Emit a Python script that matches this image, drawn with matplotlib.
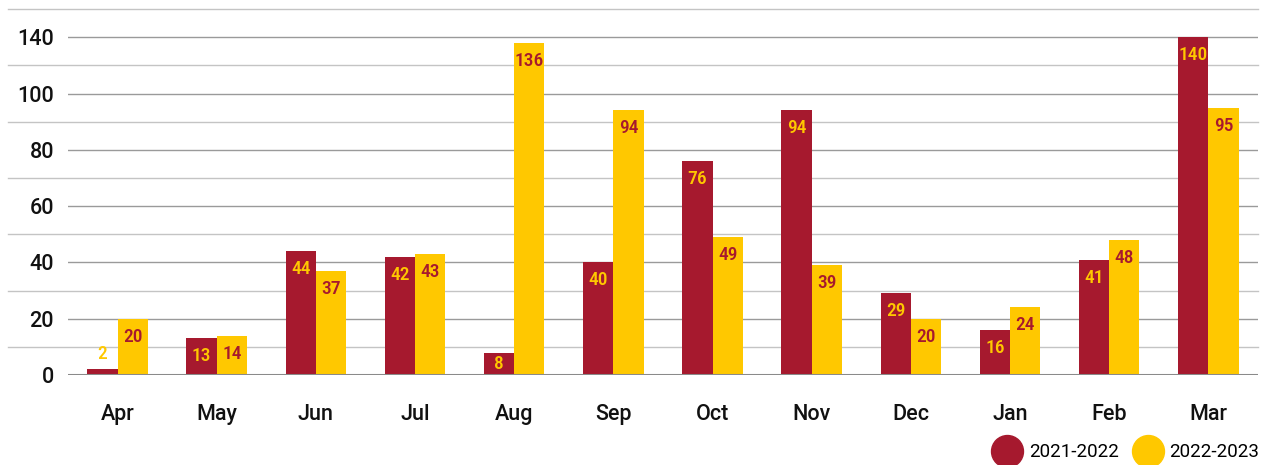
import matplotlib.pyplot as plt
import numpy as np
from matplotlib.lines import Line2D

months = ["Apr", "May", "Jun", "Jul", "Aug", "Sep", "Oct", "Nov", "Dec", "Jan", "Feb", "Mar"]
fy_2021_22 = [2, 13, 44, 42, 8, 40, 76, 94, 29, 16, 41, 140]
fy_2022_23 = [20, 14, 37, 43, 136, 94, 49, 39, 20, 24, 48, 95]
series_names = ["2021-2022", "2022-2023"]
y_ticks = [0, 20, 40, 60, 80, 100, 140]

RED = "#A6192E"
YELLOW = "#FFC800"
LABEL_FONT = ["Roboto Condensed", "Roboto", "DejaVu Sans"]

plt.rcParams["font.family"] = ["Roboto", "Liberation Sans", "DejaVu Sans"]


# axis is squeezed above 100 so the big months still fit
def fwd(y):
    y = np.asarray(y, dtype=float)
    return np.where(y <= 100, y, 100 + (y - 100) / 2)


def inv(t):
    t = np.asarray(t, dtype=float)
    return np.where(t <= 100, t, 100 + (t - 100) * 2)


fig = plt.figure(figsize=(12.7, 4.65), dpi=100)
ax = fig.add_axes([0.0535, 0.1935, 0.937, 0.787])
ax.set_yscale("function", functions=(fwd, inv))

x = np.arange(len(months))
w = 0.305
bars1 = ax.bar(x - w / 2, fy_2021_22, w, color=RED, zorder=3)
bars2 = ax.bar(x + w / 2, fy_2022_23, w, color=YELLOW, zorder=3)

ax.set_xlim(-0.5, len(months) - 0.5)
ax.set_ylim(0, float(inv(130)))

# light lines between the labelled ticks run out past the tick labels
for t in [10, 30, 50, 70, 90, 110, 130]:
    ax.axhline(float(inv(t)), xmin=-0.05, xmax=1, color="#c4c4c4", lw=1.0,
               clip_on=False, zorder=1)
for v in y_ticks[1:]:
    ax.axhline(v, color="#9a9a9a", lw=1.0, zorder=1)
ax.axhline(0, color="#8a8a8a", lw=2.2, zorder=4)

ax.set_yticks(y_ticks)
ax.set_yticklabels([str(v) for v in y_ticks])
ax.set_xticks(x)
ax.set_xticklabels(months)
ax.tick_params(axis="both", length=0, labelsize=15.5, labelcolor="#111111")
ax.tick_params(axis="y", pad=10)
ax.tick_params(axis="x", pad=21)
for lab in ax.get_xticklabels() + ax.get_yticklabels():
    lab.set_fontweight("medium")
for s in ax.spines.values():
    s.set_visible(False)


def label_bars(bars, vals, text_color):
    for b, v in zip(bars, vals):
        cx = b.get_x() + b.get_width() / 2
        px = ax.transData.transform([(cx, v), (cx, 0)])
        h = px[0][1] - px[1][1]
        if h < 14:
            dy = 15
        else:
            dy = -min(18, h / 2)
        ax.annotate(str(v), (cx, v), xytext=(0, dy), textcoords="offset pixels",
                    ha="center", va="center", color=text_color, fontsize=14,
                    fontweight="medium", family=LABEL_FONT, zorder=5)


label_bars(bars1, fy_2021_22, YELLOW)
label_bars(bars2, fy_2022_23, RED)

handles = [Line2D([], [], marker="o", ls="none", markersize=23, color=c)
           for c in (RED, YELLOW)]
fig.legend(handles, series_names, loc="center right", bbox_to_anchor=(0.999, 0.027),
           ncol=2, frameon=False, borderpad=0, handletextpad=0.35,
           columnspacing=0.75, handlelength=1.6,
           prop={"family": ["Roboto", "DejaVu Sans"], "size": 13.5})

fig.savefig("out.png", dpi=100)
